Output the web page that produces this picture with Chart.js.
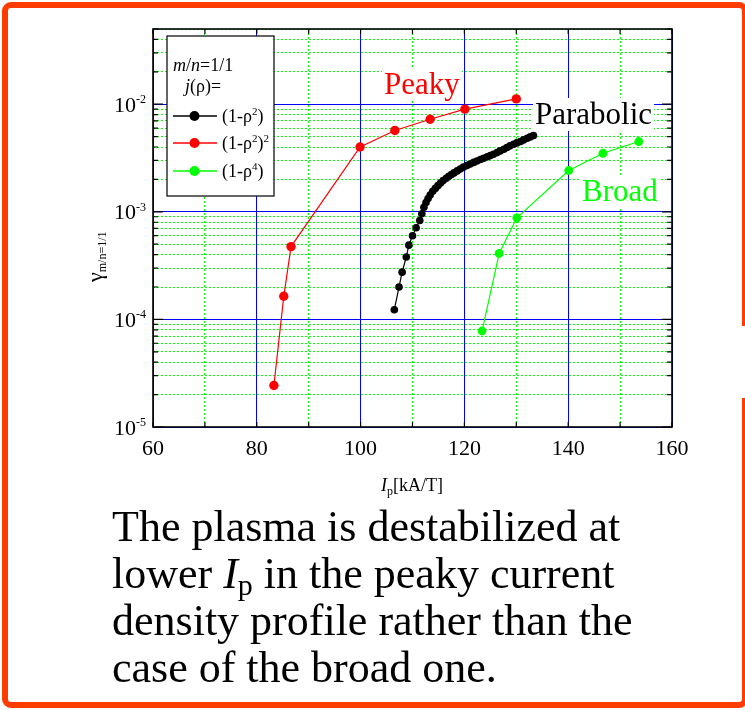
<!DOCTYPE html>
<html>
<head>
<meta charset="utf-8">
<script src="https://cdn.jsdelivr.net/npm/chart.js@4.4.0/dist/chart.umd.min.js"></script>
<style>
  html, body { margin: 0; padding: 0; background: #fff; }
  body { width: 745px; height: 710px; position: relative; overflow: hidden; font-family: "Liberation Serif", serif; }
  #frame { position: absolute; left: 2px; top: 2px; width: 746px; height: 706px; box-sizing: border-box;
           border: 6px solid #ff3c00; border-radius: 9px; }
  #notch { position: absolute; left: 738px; top: 326px; width: 12px; height: 72px; background: #fff; }
  #chart { position: absolute; left: 0; top: 0; }
  #caption { position: absolute; left: 112px; top: 503px; font-family: "Liberation Serif", serif;
             font-size: 44px; line-height: 47px; color: #000; white-space: nowrap; }
  #caption sub { font-size: 30px; line-height: 0; vertical-align: -7px; }
  #warm { position: absolute; left: -200px; top: 0; font-family: "Liberation Serif"; }
</style>
</head>
<body>
<div id="warm">Peaky <i>Ip</i> &#947;&#961;</div>
<div id="frame"></div>
<div id="notch"></div>
<canvas id="chart" width="745" height="710"></canvas>
<div id="caption">The plasma is destabilized at<br>lower <i>I</i><sub>p</sub> in the peaky current<br>density profile rather than the<br>case of the broad one.</div>

<script>
// j(rho) = (1-rho^2)  -> "Parabolic"
const parabolicIp = [106.5, 107.4, 108.0, 108.8, 109.3, 110.0, 110.7, 111.4, 111.8, 112.2, 112.6, 113.0,
  113.4, 113.9, 114.4, 114.9, 115.4, 115.9, 116.5, 117.0, 117.5, 118.0, 118.6, 119.2, 119.8, 120.5,
  121.1, 121.8, 122.4, 123.1, 123.7, 124.4, 125.0, 125.6, 126.3, 126.9, 127.6, 128.2, 128.8, 129.5,
  130.1, 130.8, 131.4, 132.1, 132.7, 133.3];
const parabolicGamma = [1.23e-4, 2.0e-4, 2.75e-4, 3.8e-4, 4.9e-4, 6.0e-4, 7.1e-4, 8.3e-4, 9.6e-4, 1.1e-3,
  1.22e-3, 1.33e-3, 1.43e-3, 1.55e-3, 1.65e-3, 1.75e-3, 1.85e-3, 1.95e-3, 2.05e-3, 2.14e-3, 2.22e-3,
  2.3e-3, 2.4e-3, 2.5e-3, 2.6e-3, 2.69e-3, 2.78e-3, 2.88e-3, 2.97e-3, 3.06e-3, 3.15e-3, 3.24e-3, 3.33e-3,
  3.43e-3, 3.55e-3, 3.68e-3, 3.82e-3, 3.96e-3, 4.1e-3, 4.25e-3, 4.37e-3, 4.5e-3, 4.66e-3, 4.83e-3,
  4.97e-3, 5.12e-3];

// j(rho) = (1-rho^2)^2 -> "Peaky"
const peakyIp = [83.3, 85.2, 86.6, 99.9, 106.6, 113.4, 120.1, 130.0];
const peakyGamma = [2.43e-5, 1.64e-4, 4.75e-4, 4.0e-3, 5.7e-3, 7.25e-3, 9.0e-3, 1.12e-2];

// j(rho) = (1-rho^4) -> "Broad"
const broadIp = [123.4, 126.7, 130.1, 140.1, 146.7, 153.6];
const broadGamma = [7.8e-5, 4.1e-4, 8.8e-4, 2.42e-3, 3.5e-3, 4.5e-3];

// axis ranges and log tick positions
const xRange = [60, 160];
const yRange = [1e-5, 0.05];
const yDecades = [1e-5, 1e-4, 1e-3, 1e-2];
const yMantissas = [1, 2, 3, 4, 5, 6, 7, 8, 9];

const FONT = '"Liberation Serif"';
const BLUE = '#0000ff';
const GREEN = '#00ff00';

const yTickValues = [];
yDecades.forEach(d => yMantissas.forEach(m => {
  const v = d * m;
  if (v <= yRange[1] * 1.000001) yTickValues.push(v);
}));

function isDecade(v) {
  const l = Math.log10(v);
  return Math.abs(l - Math.round(l)) < 1e-6;
}

function toXY(xs, ys) {
  return xs.map((x, i) => ({ x: x, y: ys[i] }));
}

// draws text pieces one after another: [text, size, dy, italic]
function drawRich(ctx, x, y, parts) {
  parts.forEach(p => {
    ctx.font = (p[3] ? 'italic ' : '') + p[1] + 'px ' + FONT;
    ctx.fillText(p[0], x, y + p[2]);
    x += ctx.measureText(p[0]).width;
  });
  return x;
}

function label(ctx, text, x, y, color) {
  ctx.font = '31px ' + FONT;
  const w = ctx.measureText(text).width;
  ctx.fillStyle = '#fff';
  ctx.fillRect(x - 2, y - 26, w + 4, 33);
  ctx.fillStyle = color;
  ctx.fillText(text, x, y);
}

const paperPlugin = {
  id: 'paper',
  afterDatasetsDraw(chart) {
    const { ctx, chartArea: a, scales: { x, y } } = chart;
    ctx.save();

    // inner tick marks
    ctx.strokeStyle = '#000';
    ctx.lineWidth = 1.2;
    ctx.beginPath();
    x.ticks.forEach(t => {
      const px = x.getPixelForValue(t.value);
      ctx.moveTo(px, a.bottom); ctx.lineTo(px, a.bottom - 5);
      ctx.moveTo(px, a.top); ctx.lineTo(px, a.top + 5);
    });
    y.ticks.forEach(t => {
      const py = y.getPixelForValue(t.value);
      const len = isDecade(t.value) ? 10 : 5;
      ctx.moveTo(a.left, py); ctx.lineTo(a.left + len, py);
      ctx.moveTo(a.right, py); ctx.lineTo(a.right - len, py);
    });
    ctx.stroke();

    // frame
    ctx.lineWidth = 1.6;
    ctx.strokeRect(a.left, a.top, a.right - a.left, a.bottom - a.top);

    // x tick labels
    ctx.fillStyle = '#000';
    ctx.textAlign = 'center';
    ctx.textBaseline = 'alphabetic';
    ctx.font = '22px ' + FONT;
    x.ticks.forEach(t => {
      if (t.value % 20 !== 0) return;
      ctx.fillText(String(t.value), x.getPixelForValue(t.value), 455);
    });

    // y tick labels 10^n
    y.ticks.forEach(t => {
      if (!isDecade(t.value)) return;
      const py = y.getPixelForValue(t.value);
      ctx.textAlign = 'right';
      ctx.font = '22px ' + FONT;
      ctx.fillText('10', 136, py + 7.5);
      ctx.textAlign = 'left';
      ctx.font = '12px ' + FONT;
      ctx.fillText(String(Math.round(Math.log10(t.value))), 136, py - 1);
    });

    // x title
    ctx.textAlign = 'left';
    drawRich(ctx, 381, 491, [['I', 18, 0, true], ['p', 12, 4, false], ['[kA/T]', 18, 0, false]]);

    // y title (rotated)
    ctx.save();
    ctx.translate(102, 251);
    ctx.rotate(-Math.PI / 2);
    drawRich(ctx, -31, 0, [['\u03b3', 22, 0, false], ['m/n=1/1', 12, 4, false]]);
    ctx.restore();

    // legend box
    ctx.fillStyle = '#fff';
    ctx.fillRect(167, 36, 107, 160);
    ctx.strokeStyle = '#000';
    ctx.lineWidth = 1.2;
    ctx.strokeRect(167, 36, 107, 160);
    ctx.fillStyle = '#000';
    drawRich(ctx, 173, 71, [['m', 18, 0, true], ['/', 18, 0, false], ['n', 18, 0, true], ['=1/1', 18, 0, false]]);
    drawRich(ctx, 185, 92, [['j', 18, 0, true], ['(\u03c1)=', 18, 0, false]]);
    const entries = [
      { y: 116, color: '#000', parts: [['(1-\u03c1', 18, 0], ['2', 11, -7], [')', 18, 0]] },
      { y: 143, color: '#ff0000', parts: [['(1-\u03c1', 18, 0], ['2', 11, -7], [')', 18, 0], ['2', 11, -7]] },
      { y: 171, color: GREEN, parts: [['(1-\u03c1', 18, 0], ['4', 11, -7], [')', 18, 0]] }
    ];
    entries.forEach(e => {
      ctx.strokeStyle = e.color;
      ctx.lineWidth = 1.3;
      ctx.beginPath();
      ctx.moveTo(173, e.y); ctx.lineTo(217, e.y);
      ctx.stroke();
      ctx.fillStyle = e.color;
      ctx.beginPath();
      ctx.arc(194.5, e.y, 5, 0, Math.PI * 2);
      ctx.fill();
      ctx.fillStyle = '#000';
      drawRich(ctx, 222, e.y + 6, e.parts);
    });

    // curve labels
    label(ctx, 'Peaky', 384, 94, '#ff0000');
    label(ctx, 'Parabolic', 535, 124, '#000');
    label(ctx, 'Broad', 582, 201, GREEN);

    ctx.restore();
  }
};

const chart = new Chart(document.getElementById('chart'), {
  type: 'scatter',
  data: {
    datasets: [
      {
        label: '(1-\u03c1\u00b2)',
        data: toXY(parabolicIp, parabolicGamma),
        showLine: true,
        borderColor: '#000',
        backgroundColor: '#000',
        borderWidth: 1.2,
        pointRadius: 3.8,
        pointBorderWidth: 0
      },
      {
        label: '(1-\u03c1\u00b2)\u00b2',
        data: toXY(peakyIp, peakyGamma),
        showLine: true,
        borderColor: '#ff0000',
        backgroundColor: '#ff0000',
        borderWidth: 1.2,
        pointRadius: 4.7,
        pointBorderWidth: 0
      },
      {
        label: '(1-\u03c1\u2074)',
        data: toXY(broadIp, broadGamma),
        showLine: true,
        borderColor: GREEN,
        backgroundColor: GREEN,
        borderWidth: 1.2,
        pointRadius: 4.4,
        pointBorderWidth: 0
      }
    ]
  },
  options: {
    responsive: false,
    animation: false,
    devicePixelRatio: 1,
    layout: { padding: { left: 153, top: 29, right: 73, bottom: 283 } },
    plugins: { legend: { display: false }, tooltip: { enabled: false } },
    scales: {
      x: {
        type: 'linear',
        min: xRange[0],
        max: xRange[1],
        ticks: { display: false, stepSize: 10 },
        grid: {
          drawTicks: false,
          lineWidth: 1,
          color: c => (c.tick && c.tick.value % 20 === 0) ? BLUE : GREEN
        },
        border: {
          display: false,
          dash: c => (c.tick && c.tick.value % 20 !== 0) ? [2, 2] : []
        }
      },
      y: {
        type: 'logarithmic',
        min: yRange[0],
        max: yRange[1],
        afterBuildTicks: axis => {
          axis.ticks = yTickValues.map(v => ({ value: v, major: isDecade(v) }));
        },
        ticks: { display: false },
        grid: {
          drawTicks: false,
          lineWidth: 1,
          color: c => (c.tick && isDecade(c.tick.value)) ? BLUE : GREEN
        },
        border: {
          display: false,
          dash: c => (c.tick && !isDecade(c.tick.value)) ? [2, 2] : []
        }
      }
    }
  },
  plugins: [paperPlugin]
});

// redraw once the serif face is surely available for canvas text
document.fonts.ready.then(() => chart.draw());
window.addEventListener('load', () => chart.draw());
</script>
</body>
</html>
